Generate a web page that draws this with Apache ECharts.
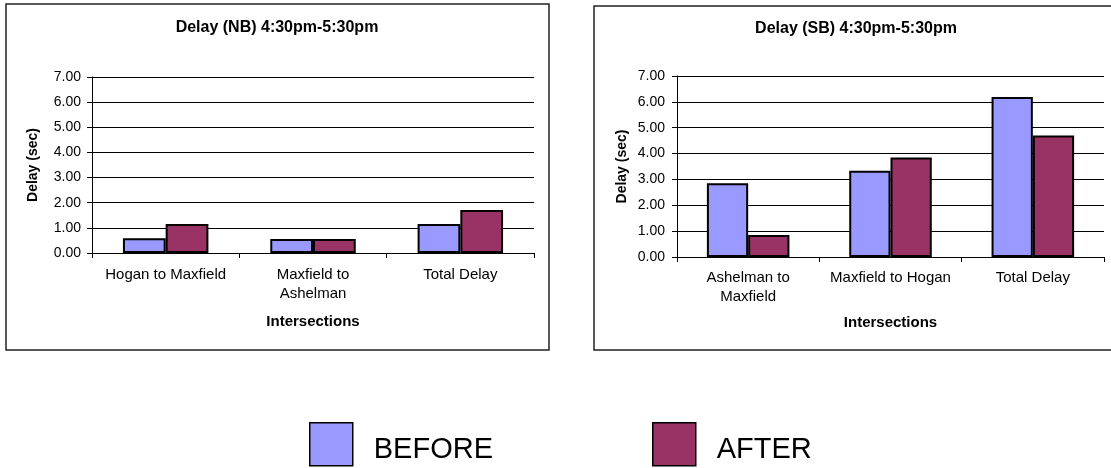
<!DOCTYPE html>
<html>
<head>
<meta charset="utf-8">
<title>Delay 4:30pm-5:30pm</title>
<script src="https://cdn.jsdelivr.net/npm/echarts@6/dist/echarts.min.js"></script>
<style>
  html, body { margin: 0; padding: 0; background: #fff; }
  #chart { width: 1111px; height: 468px; }
</style>
</head>
<body>
<div id="chart"></div>
<script>
// NB / SB delay data (sec)
const nbCategories = ['Hogan to Maxfield', 'Maxfield to\nAshelman', 'Total Delay'];
const nbBefore = [0.59, 0.56, 1.15];
const nbAfter = [1.15, 0.56, 1.71];

const sbCategories = ['Ashelman to\nMaxfield', 'Maxfield to Hogan', 'Total Delay'];
const sbBefore = [2.85, 3.34, 6.19];
const sbAfter = [0.85, 3.85, 4.70];

const seriesNames = ['BEFORE', 'AFTER'];
const titles = ['Delay (NB) 4:30pm-5:30pm', 'Delay (SB) 4:30pm-5:30pm'];

const FONT = "'Liberation Sans', Arial, sans-serif";
const colBefore = '#9999FF';
const colAfter = '#993366';

const chart = echarts.init(document.getElementById('chart'), null, { renderer: 'canvas' });

function yAxisFor(gridIndex, gap, margin) {
  return {
    gridIndex: gridIndex,
    type: 'value',
    min: 0,
    max: 7,
    interval: 1,
    name: 'Delay (sec)',
    nameLocation: 'middle',
    nameGap: gap,
    nameTextStyle: { fontFamily: FONT, fontSize: 14, fontWeight: 'bold', color: '#000' },
    axisLine: { show: true, lineStyle: { color: '#000', width: 1 } },
    axisTick: { show: true, inside: false, length: 5, lineStyle: { color: '#000' } },
    axisLabel: {
      margin: margin,
      fontFamily: FONT, fontSize: 14, color: '#000',
      formatter: v => v.toFixed(2)
    },
    splitLine: { show: true, lineStyle: { color: '#000', width: 1 } }
  };
}

function xAxisFor(gridIndex, cats, nameGap, margin) {
  return {
    gridIndex: gridIndex,
    type: 'category',
    data: cats,
    name: 'Intersections',
    nameLocation: 'middle',
    nameGap: nameGap,
    nameTextStyle: { fontFamily: FONT, fontSize: 15, fontWeight: 'bold', color: '#000' },
    axisLine: { show: true, lineStyle: { color: '#000', width: 1 } },
    axisTick: { show: true, inside: false, length: 5, alignWithLabel: false, lineStyle: { color: '#000' } },
    axisLabel: { margin: margin, fontFamily: FONT, fontSize: 15, color: '#000', lineHeight: 19, interval: 0 },
    splitLine: { show: false }
  };
}

function barSeries(name, idx, data, color) {
  return {
    name: name,
    type: 'bar',
    xAxisIndex: idx,
    yAxisIndex: idx,
    data: data,
    barGap: '0%',
    barCategoryGap: '42%',
    itemStyle: { color: color, borderColor: '#000', borderWidth: 2 }
  };
}

function legendFor(name, left) {
  return {
    data: [name],
    left: left,
    top: 422,
    padding: 0,
    itemWidth: 43,
    itemHeight: 43,
    icon: 'rect',
    selectedMode: false,
    itemStyle: { borderColor: '#000', borderWidth: 1.5 },
    formatter: '{t|{name}}',
    textStyle: {
      fontFamily: FONT, fontSize: 29, color: '#000',
      rich: { t: { fontFamily: FONT, fontSize: 29, color: '#000', padding: [12, 0, 0, 16] } }
    }
  };
}

const option = {
  animation: false,
  backgroundColor: '#fff',
  title: [
    { text: titles[0], left: 277, top: 20, textAlign: 'center', padding: 0,
      textStyle: { fontFamily: FONT, fontSize: 16, fontWeight: 'bold', color: '#000' } },
    { text: titles[1], left: 856, top: 21, textAlign: 'center', padding: 0,
      textStyle: { fontFamily: FONT, fontSize: 16, fontWeight: 'bold', color: '#000' } }
  ],
  legend: [legendFor(seriesNames[0], 309), legendFor(seriesNames[1], 652)],
  grid: [
    { left: 92, right: 1111 - 534, top: 77, bottom: 468 - 253, containLabel: false },
    { left: 677, right: 1111 - 1104, top: 76, bottom: 468 - 257, containLabel: false }
  ],
  xAxis: [
    xAxisFor(0, nbCategories, 61, 12),
    xAxisFor(1, sbCategories, 58, 11)
  ],
  yAxis: [
    yAxisFor(0, 52, 11),
    yAxisFor(1, 48, 12)
  ],
  series: [
    barSeries(seriesNames[0], 0, nbBefore, colBefore),
    barSeries(seriesNames[1], 0, nbAfter, colAfter),
    barSeries(seriesNames[0], 1, sbBefore, colBefore),
    barSeries(seriesNames[1], 1, sbAfter, colAfter)
  ],
  graphic: [
    { type: 'rect', silent: true, z: -1,
      shape: { x: 6, y: 4, width: 543, height: 346 },
      style: { fill: 'none', stroke: '#222', lineWidth: 1.5 } },
    { type: 'rect', silent: true, z: -1,
      shape: { x: 594, y: 6, width: 540, height: 344 },
      style: { fill: 'none', stroke: '#222', lineWidth: 1.5 } }
  ]
};

chart.setOption(option);
</script>
</body>
</html>
